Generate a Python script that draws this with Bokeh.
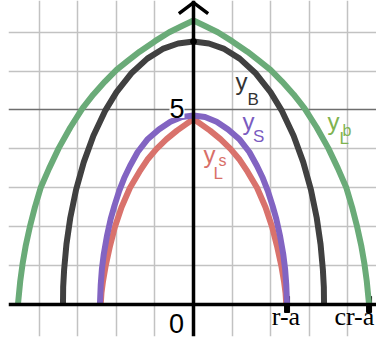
from bokeh.plotting import figure
from bokeh.models import Range1d, FixedTicker, Grid, Span, Label, ColumnDataSource
from bokeh.core.properties import value
from bokeh.embed import file_html
from bokeh.resources import INLINE

# ---- data (right halves, x >= 0; curves are symmetric) ----
Lb_x = [0.0, 0.3, 0.63, 1.0, 1.4, 1.7, 2.0, 2.3, 2.6, 2.88, 3.2, 3.5, 3.75, 3.97, 4.12, 4.24, 4.36, 4.44, 4.5, 4.56]
Lb_y = [7.30, 7.16, 7.0, 6.77, 6.5, 6.27, 6.03, 5.73, 5.4, 5.05, 4.55, 4.02, 3.5, 3.0, 2.5, 2.04, 1.5, 1.04, 0.6, 0.0]

B_x = [0.0, 0.4, 0.8, 1.2, 1.6, 2.0, 2.3, 2.6, 2.85, 3.05, 3.2, 3.3, 3.36, 3.385, 3.39]
B_y = [6.76, 6.71, 6.57, 6.32, 5.96, 5.46, 4.97, 4.34, 3.66, 2.95, 2.23, 1.55, 0.90, 0.45, 0.0]

S_x = [0.0, 0.3, 0.6, 0.9, 1.2, 1.45, 1.65, 1.8, 1.93, 2.05, 2.15, 2.25, 2.33, 2.38, 2.41, 2.43]
S_y = [4.86, 4.82, 4.70, 4.50, 4.24, 3.92, 3.56, 3.25, 2.92, 2.55, 2.2, 1.75, 1.3, 0.9, 0.5, 0.0]

Ls_x = [0.0, 0.2, 0.43, 0.7, 0.96, 1.2, 1.4, 1.65, 1.87, 2.04, 2.17, 2.28, 2.35, 2.39, 2.41]
Ls_y = [4.77, 4.63, 4.47, 4.25, 4.0, 3.72, 3.42, 3.0, 2.5, 2.0, 1.5, 1.0, 0.6, 0.3, 0.0]

grid_x = [-4, -3, -2, -1, 1, 2, 3, 4]
grid_y_minor = [1, 2, 3, 4, 6, 7]
grid_y_major = [5]
ytick_label = "5"
origin_label = "0"
xtick_vals = [2.43, 4.56]
xtick_labels = ["r-a", "cr-a"]


def mirror(xs, ys):
    return [-x for x in xs[::-1]] + xs[1:], ys[::-1] + ys[1:]


p = figure(width=376, height=342,
           x_range=Range1d(-4.805, 4.753), y_range=Range1d(-0.823, 7.815),
           x_axis_location=None, y_axis_location=None,
           output_backend="svg", toolbar_location=None,
           min_border=0, min_border_left=8, min_border_bottom=6,
           outline_line_color=None,
           background_fill_color="white", border_fill_color="white")
p.grid.visible = False

p.add_layout(Grid(dimension=0, ticker=FixedTicker(ticks=grid_x),
                  grid_line_color="#c2c2c2", grid_line_width=1.5), "center")
p.add_layout(Grid(dimension=1, ticker=FixedTicker(ticks=grid_y_minor),
                  grid_line_color="#c2c2c2", grid_line_width=1.5), "center")
p.add_layout(Grid(dimension=1, ticker=FixedTicker(ticks=grid_y_major),
                  grid_line_color="#6e6e6e", grid_line_width=1.5), "center")

# point markers on the x axis (r-a, cr-a)
p.rect(x=xtick_vals, y=[0] * len(xtick_vals), width=5, height=16,
       width_units="screen", height_units="screen", color="black")

curves = [
    (Lb_x, Lb_y, "#6aab78"),
    (B_x, B_y, "#404040"),
    (Ls_x, Ls_y, "#d9726c"),
    (S_x, S_y, "#8264c2"),
]
for xs, ys, col in curves:
    fx, fy = mirror(xs, ys)
    p.line(fx, fy, line_color=col, line_width=6, line_join="round")

# dot at the top of y_B
p.scatter([B_x[0]], [B_y[0]], size=6, color="black")

# axes
p.add_layout(Span(location=0, dimension="width", line_color="black", line_width=3.5))
p.add_layout(Span(location=0, dimension="height", line_color="black", line_width=3.5))
# arrow head on the y axis
p.line([-0.38, 0, 0.38], [7.48, 7.76, 7.48], line_color="black", line_width=3.5,
       line_join="miter")

# curve labels
lab = ColumnDataSource(dict(
    x=[1.091, 1.403, 1.273, 1.545, 0.26, 0.519, 0.649, 3.48, 3.792, 3.87],
    y=[5.733, 5.27, 4.704, 4.319, 3.856, 3.368, 3.702, 4.704, 4.267, 4.473],
    text=["y", "B", "y", "S", "y", "L", "s", "y", "L", "b"],
    color=["#333333", "#333333", "#7a5bbf", "#7a5bbf", "#d86f68", "#d86f68", "#d86f68",
           "#80b350", "#80b350", "#80b350"],
    size=["24px", "17px", "24px", "17px", "24px", "17px", "16px", "24px", "17px", "16px"],
))
p.text(x="x", y="y", text="text", source=lab, text_color="color", text_font_size="size",
       text_font=value("Liberation Sans"), text_baseline="alphabetic", text_align="left")

# axis numbers
p.add_layout(Label(x=-0.234, y=5.04, text=ytick_label, text_align="right",
                   text_baseline="alphabetic", text_font="Liberation Sans",
                   text_font_size="27px", text_color="black",
                   background_fill_color="white"))
p.add_layout(Label(x=-0.247, y=-0.50, text=origin_label, text_align="right",
                   text_baseline="alphabetic", text_font="Liberation Sans",
                   text_font_size="27px", text_color="black"))

# x tick labels (serif)
for xv, txt, align in zip([2.40, 3.66], xtick_labels, ["center", "left"]):
    p.add_layout(Label(x=xv, y=-0.31, text=txt, text_align=align,
                       text_baseline="alphabetic", text_font="Liberation Serif",
                       text_font_size="26px", text_color="black"))

open("out.html", "w").write(file_html(p, INLINE))
